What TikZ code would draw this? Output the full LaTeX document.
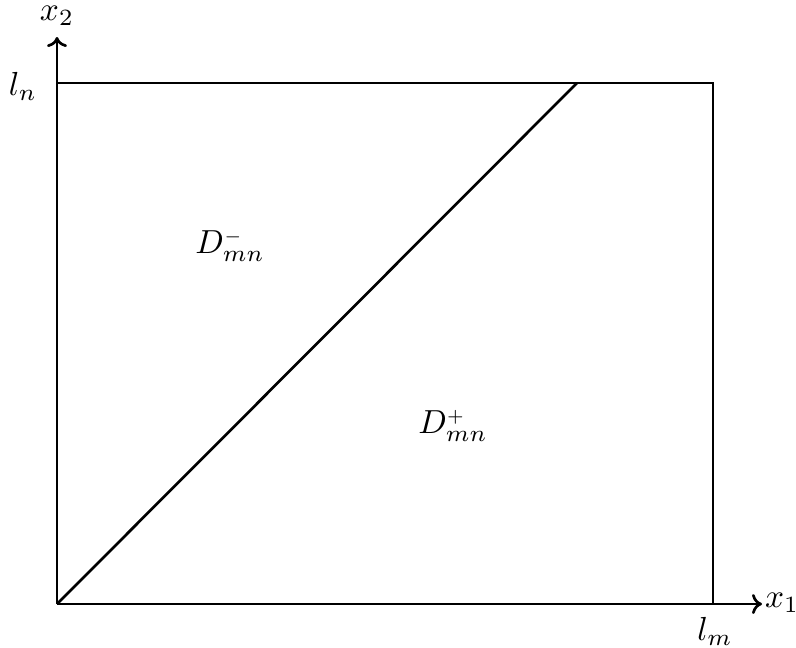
\documentclass[tikz,border=0pt]{standalone}
\usetikzlibrary{arrows.meta}
\begin{document}
\begin{tikzpicture}[x=0.3pt,y=-0.3pt,
  edge/.style={line width=0.8pt},
  axis/.style={line width=0.8pt,-{To[length=3pt,width=6pt]}},
  lbl/.style={inner sep=0pt,anchor=center}]
\useasboundingbox (0,0) rectangle (796,647);
\coordinate (O) at (57,604);
\coordinate (TL) at (57,83);
\coordinate (TR) at (713,83);
\coordinate (BR) at (713,604);
\coordinate (D) at (577,83);
\coordinate (XE) at (762,604);
\coordinate (YE) at (57,37);
\draw[edge] (TL) -- (TR) -- (BR);
\draw[edge] (O) -- (D);
\draw[axis] (O) -- (XE);
\draw[axis] (O) -- (YE);
\node[lbl] (x1) at (782,603) {$x_1$};
\node[lbl] (x2) at (57,16) {$x_2$};
\node[lbl] (ln) at (23,86) {$l_n$};
\node[lbl] (lm) at (715,631) {$l_m$};
\node[lbl] (dm) at (230,246) {$D^{\scriptscriptstyle -}_{mn}$};
\node[lbl] (dp) at (453,426) {$D^{\scriptscriptstyle +}_{mn}$};
\end{tikzpicture}
\end{document}
